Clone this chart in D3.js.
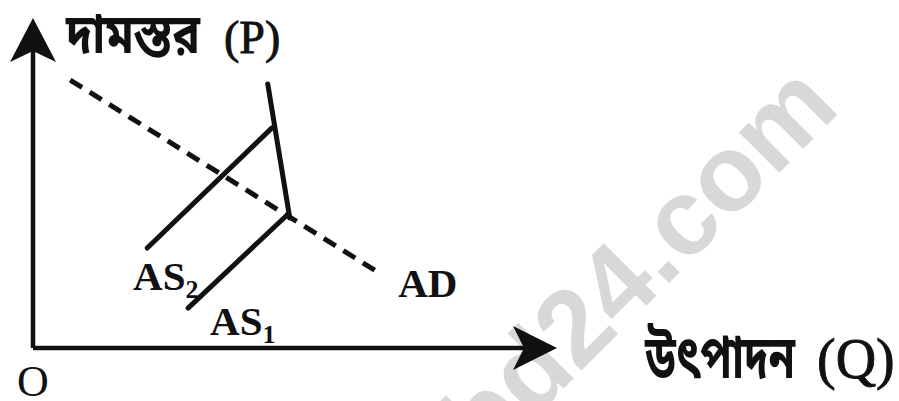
<!DOCTYPE html>
<html>
<head>
<meta charset="utf-8">
<script src="https://cdn.jsdelivr.net/npm/d3@7"></script>
<style>
	html, body { margin: 0; padding: 0; background: #fff; }
	svg { display: block; }
	.lbl { font-family: "Liberation Serif", "Times New Roman", serif; fill: #111; }
	.par { font-family: "Liberation Serif", "Times New Roman", serif; fill: #111; stroke: #111; stroke-width: 0.9; }
	.bn { font-family: "Noto Sans Bengali", "Noto Sans", sans-serif; font-weight: bold; fill: #111; }
	.wm { font-family: "Liberation Sans", Arial, sans-serif; font-weight: bold; fill: #d8d8d8; }
</style>
</head>
<body>
<main></main>
<script>
// curves, in chart units (Q on x, P on y, both 0..100)
const adCurve = [[7.1, 81.2], [65.8, 23.0]];
const as2Curve = [[21.8, 30.3], [45.6, 66.7]];
const as1Curve = [[29.6, 12.1], [48.7, 40.6]];
const lrasCurve = [[44.8, 80.0], [49.0, 39.4]];

// curve labels: [text, subscript, q, p]
const curveLabels = [
	["AS", "2", 19.1, 17.6],
	["AS", "1", 33.8, 3.9],
	["AD", "", 69.7, 15.5]
];

const yTitle = ["দামস্তর", "(P)"];
const xTitle = ["উৎপাদন", "(Q)"];
const originLabel = "O";
const watermark = "bd24.com";

const w = 899,
	h = 401;

const xScale = d3.scaleLinear().domain([0, 100]).range([33, 557]);
const yScale = d3.scaleLinear().domain([0, 100]).range([348, 18]);

const svg = d3.select("main")
	.append("svg")
	.attr("width", w)
	.attr("height", h);

// watermark behind everything
svg.append("text")
	.attr("class", "wm")
	.attr("transform", "translate(842,110) rotate(-45)")
	.attr("text-anchor", "end")
	.style("font-size", "108px")
	.text(watermark);

const line = d3.line()
	.x((d) => xScale(d[0]))
	.y((d) => yScale(d[1]));

//Axes
svg.append("path")
	.attr("d", line([[0, 0], [0, 90]]))
	.attr("stroke", "#111")
	.attr("stroke-width", 4.5)
	.attr("fill", "none");
svg.append("path")
	.attr("d", line([[0, 0], [94, 0]]))
	.attr("stroke", "#111")
	.attr("stroke-width", 4.5)
	.attr("fill", "none");

// arrow heads
const y0 = yScale(0), x0 = xScale(0);
const yTip = yScale(100), xTip = xScale(100);
svg.append("path")
	.attr("d", `M${x0},${yTip} L${x0 + 23},${yTip + 44} L${x0},${yTip + 33} L${x0 - 23},${yTip + 44} Z`)
	.attr("fill", "#111");
svg.append("path")
	.attr("d", `M${xTip},${y0} L${xTip - 44},${y0 - 22} L${xTip - 33},${y0} L${xTip - 44},${y0 + 22} Z`)
	.attr("fill", "#111");

//Curves
svg.append("path")
	.attr("d", line(adCurve))
	.attr("stroke", "#111")
	.attr("stroke-width", 5)
	.attr("stroke-dasharray", "14,9")
	.attr("fill", "none");

[as2Curve, as1Curve, lrasCurve].forEach((c) => {
	svg.append("path")
		.attr("d", line(c))
		.attr("stroke", "#111")
		.attr("stroke-width", 5)
		.attr("stroke-linecap", "round")
		.attr("fill", "none");
});

//Labels
curveLabels.forEach((d) => {
	const t = svg.append("text")
		.attr("class", "lbl")
		.attr("x", xScale(d[2]))
		.attr("y", yScale(d[3]))
		.style("font-size", "41px")
		.style("font-weight", "bold")
		.text(d[0]);
	if (d[1]) {
		t.append("tspan")
			.attr("dy", 8)
			.style("font-size", "26px")
			.text(d[1]);
	}
});

svg.append("text")
	.attr("class", "lbl")
	.attr("x", xScale(0))
	.attr("y", 396)
	.attr("text-anchor", "middle")
	.style("font-size", "44px")
	.text(originLabel);

// axis titles: bengali word + bracketed symbol
svg.append("text")
	.attr("class", "bn")
	.attr("x", 66)
	.attr("y", 53)
	.attr("textLength", 134)
	.attr("lengthAdjust", "spacingAndGlyphs")
	.style("font-size", "56px")
	.text(yTitle[0]);
svg.append("text")
	.attr("class", "par")
	.attr("x", 224)
	.attr("y", 53)
	.style("font-size", "46px")
	.text(yTitle[1]);

svg.append("text")
	.attr("class", "bn")
	.attr("x", 645)
	.attr("y", 378)
	.attr("textLength", 150)
	.attr("lengthAdjust", "spacingAndGlyphs")
	.style("font-size", "60px")
	.text(xTitle[0]);
svg.append("text")
	.attr("class", "par")
	.attr("x", 817)
	.attr("y", 378)
	.style("font-size", "56px")
	.text(xTitle[1]);
</script>
</body>
</html>
